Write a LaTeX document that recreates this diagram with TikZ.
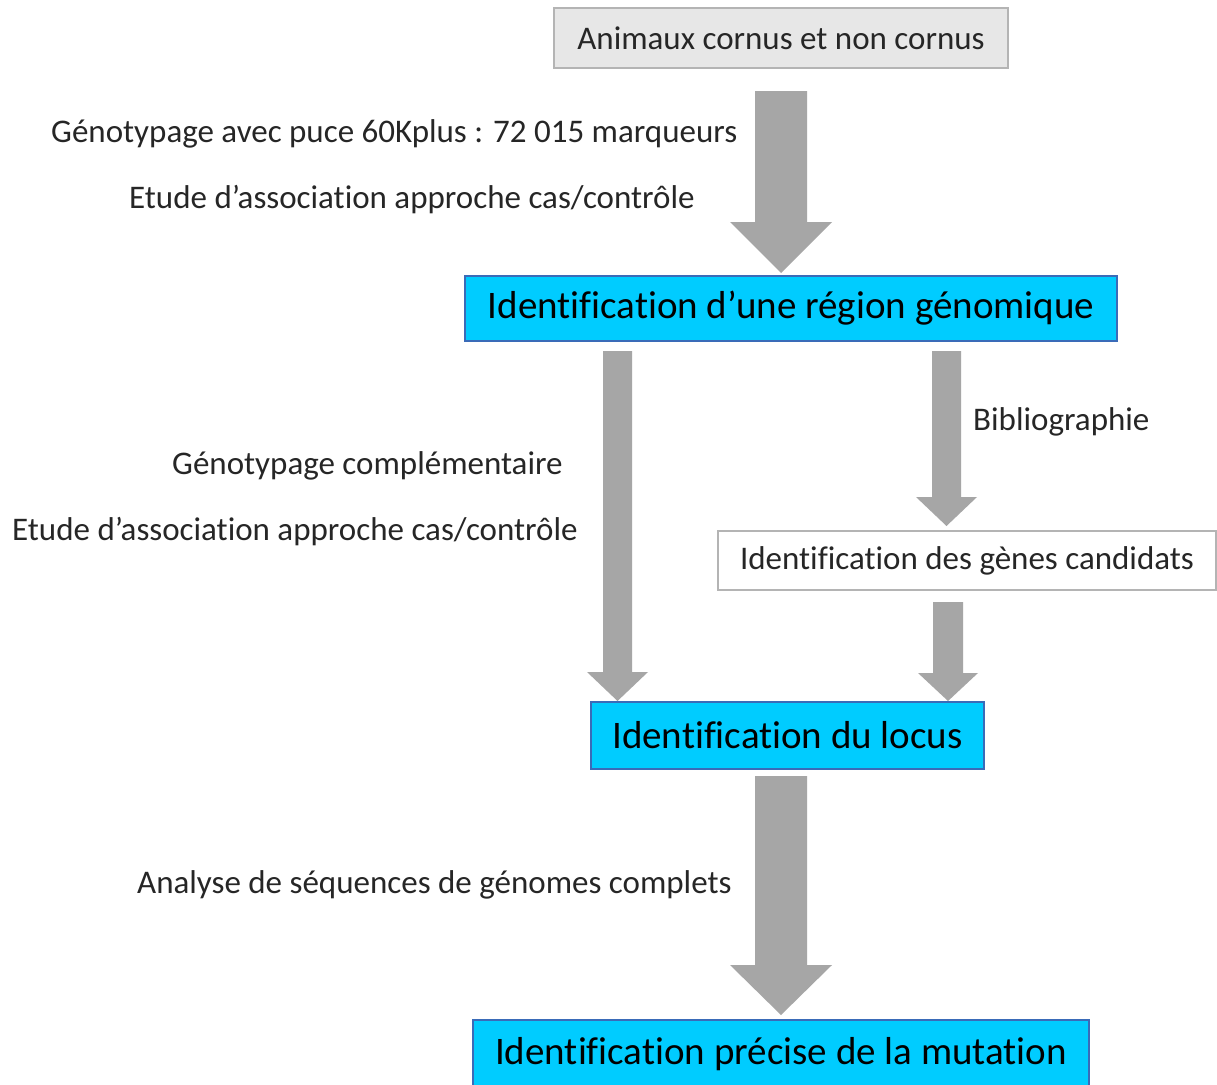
\documentclass[tikz,border=0pt]{standalone}
\usepackage{fontspec}
\setmainfont{Carlito}[Ligatures={NoCommon}]
\usetikzlibrary{calc}
\definecolor{arrowgray}{HTML}{A6A6A6}
\definecolor{cyanfill}{HTML}{00CCFF}
\definecolor{blueline}{HTML}{3A6BB8}
\definecolor{greyline}{HTML}{B4B4B4}
\definecolor{greyfill}{HTML}{E7E7E7}
\tikzset{
  smalltxt/.style={font=\fontsize{33}{36}\selectfont, inner sep=0pt, text=black!85},
  greybox/.style={draw=greyline, line width=1.2pt, fill=greyfill, font=\fontsize{33}{36}\selectfont, text=black!85, inner sep=0pt},
  whitebox/.style={draw=greyline, line width=1.2pt, fill=white, font=\fontsize{33}{36}\selectfont, text=black!85, inner sep=0pt},
  cyanbox/.style={draw=blueline, line width=1.4pt, fill=cyanfill, font=\fontsize{39}{42}\selectfont, text=black, inner sep=0pt},
}
% block arrow: #1 start, #2 tip, #3 shaft half width, #4 head half width, #5 head length
\newcommand\blockarrow[5]{%
  \fill[arrowgray] let \p1=(#1), \p2=(#2) in
    (\x1-#3,\y1) -- (\x1+#3,\y1) -- (\x1+#3,\y2+#5) -- (\x1+#4,\y2+#5)
    -- (\x2,\y2) -- (\x1-#4,\y2+#5) -- (\x1-#3,\y2+#5) -- cycle;}
\begin{document}
\begin{tikzpicture}[x=1pt,y=-1pt]
\clip (0,0) rectangle (1217,1084);
\fill[white] (0,0) rectangle (1217,1084);

% boxes
\node[greybox, minimum width=454pt, minimum height=60pt] (top) at (781,38) {Animaux cornus et non cornus};
\node[cyanbox, minimum width=652pt, minimum height=65pt] (region) at (791,308.5) {Identification d’une région génomique};
\node[whitebox, minimum width=498pt, minimum height=59pt] (cand) at (967,560.5) {Identification des gènes candidats};
\node[cyanbox, minimum width=393pt, minimum height=67pt] (locus) at (787.5,735.5) {Identification du locus};
\node[cyanbox, minimum width=616pt, minimum height=68pt] (mut) at (781,1054) {Identification précise de la mutation};

% arrow end points
\coordinate (a1s) at (781,91);   \coordinate (a1e) at (781,273);
\coordinate (a2s) at (617.5,351); \coordinate (a2e) at (617.5,701);
\coordinate (a3s) at (946.5,351); \coordinate (a3e) at (946.5,526);
\coordinate (a4s) at (948,602);   \coordinate (a4e) at (948,701);
\coordinate (a5s) at (781,776);   \coordinate (a5e) at (781,1015);

\blockarrow{a1s}{a1e}{26}{51}{51}
\blockarrow{a2s}{a2e}{14.5}{30.5}{29}
\blockarrow{a3s}{a3e}{14.5}{30.5}{29}
\blockarrow{a4s}{a4e}{15}{30}{28}
\blockarrow{a5s}{a5e}{26}{51}{50}

% labels
\node[smalltxt, anchor=west] (l1) at (51,134) {Génotypage avec puce 60Kplus : 72 015 marqueurs};
\node[smalltxt, anchor=west] (l2) at (129,200) {Etude d’association approche cas/contrôle};
\node[smalltxt, anchor=west] (l3) at (973,422) {Bibliographie};
\node[smalltxt, anchor=west] (l4) at (172,466) {Génotypage complémentaire};
\node[smalltxt, anchor=west] (l5) at (12,532) {Etude d’association approche cas/contrôle};
\node[smalltxt, anchor=west] (l6) at (137,885) {Analyse de séquences de génomes complets};
\end{tikzpicture}
\end{document}
